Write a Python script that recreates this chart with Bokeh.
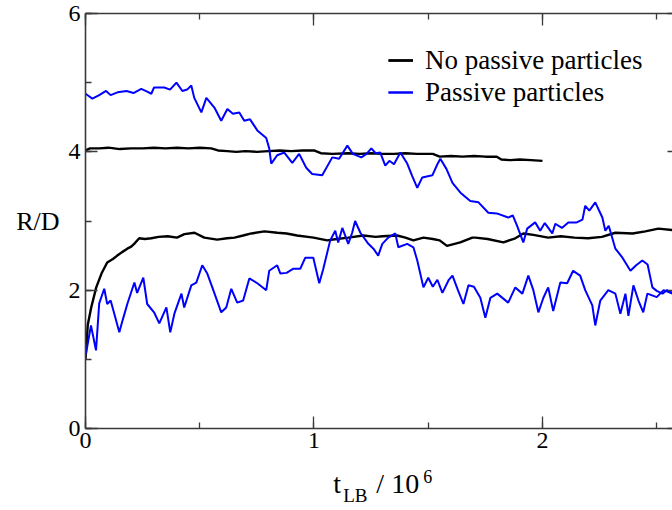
from bokeh.plotting import figure
from bokeh.layouts import column
from bokeh.models import (Range1d, LinearAxis, SingleIntervalTicker, Legend,
                          LegendItem, Label, CustomLabelingPolicy)
from bokeh.embed import file_html
from bokeh.resources import INLINE

# ---------------- data ----------------
# black, upper run (no passive particles)
t_np_hi = [0, 0.02, 0.06, 0.1, 0.15, 0.2, 0.25, 0.3, 0.35, 0.4,
           0.45, 0.5, 0.55, 0.58, 0.62, 0.66, 0.7, 0.75, 0.8, 0.85,
           0.9, 0.95, 1.0, 1.03, 1.08, 1.15, 1.2, 1.25, 1.3, 1.35,
           1.4, 1.45, 1.52, 1.55, 1.6, 1.65, 1.7, 1.75, 1.8, 1.82,
           1.86, 1.9, 1.95, 2.0]
r_np_hi = [4.02, 4.05, 4.05, 4.06, 4.04, 4.05, 4.05, 4.06, 4.05, 4.06,
           4.05, 4.06, 4.05, 4.02, 4.01, 4.0, 4.01, 4.0, 4.01, 4.02,
           4.01, 4.02, 4.02, 3.98, 3.97, 3.98, 3.97, 3.98, 3.97, 3.97,
           3.98, 3.97, 3.97, 3.93, 3.94, 3.93, 3.94, 3.93, 3.93, 3.89,
           3.88, 3.89, 3.88, 3.87]

# black, lower run (no passive particles)
t_np_lo = [0, 0.005, 0.01, 0.025, 0.047, 0.07, 0.095, 0.12, 0.139, 0.16,
           0.183, 0.2, 0.213, 0.235, 0.26, 0.288, 0.32, 0.36, 0.4, 0.433,
           0.477, 0.52, 0.576, 0.62, 0.652, 0.69, 0.726, 0.783, 0.84, 0.88,
           0.926, 0.998, 1.058, 1.1, 1.15, 1.216, 1.27, 1.3, 1.364, 1.4,
           1.435, 1.479, 1.52, 1.55, 1.582, 1.64, 1.693, 1.706, 1.76, 1.829,
           1.881, 1.916, 1.96, 2.025, 2.08, 2.14, 2.2, 2.26, 2.319, 2.394,
           2.45, 2.507, 2.57]
r_np_lo = [1.0, 1.25, 1.5, 1.75, 2.04, 2.24, 2.4, 2.45, 2.5, 2.55,
           2.6, 2.63, 2.67, 2.75, 2.74, 2.75, 2.77, 2.78, 2.76, 2.81,
           2.83, 2.76, 2.73, 2.75, 2.76, 2.79, 2.82, 2.85, 2.83, 2.82,
           2.79, 2.76, 2.72, 2.74, 2.76, 2.79, 2.77, 2.78, 2.79, 2.76,
           2.72, 2.76, 2.74, 2.72, 2.64, 2.69, 2.76, 2.76, 2.74, 2.69,
           2.75, 2.82, 2.8, 2.76, 2.78, 2.76, 2.75, 2.77, 2.83, 2.82,
           2.85, 2.89, 2.87]

# blue, upper run (passive particles)
t_p_hi = [0, 0.03, 0.06, 0.09, 0.11, 0.14, 0.18, 0.21, 0.244, 0.27,
          0.288, 0.3, 0.345, 0.37, 0.398, 0.424, 0.445, 0.463, 0.476, 0.507,
          0.529, 0.564, 0.594, 0.621, 0.645, 0.673, 0.695, 0.72, 0.752, 0.791,
          0.804, 0.813, 0.839, 0.87, 0.905, 0.935, 0.966, 0.992, 1.036, 1.08,
          1.11, 1.146, 1.17, 1.207, 1.23, 1.251, 1.27, 1.29, 1.312, 1.33,
          1.35, 1.378, 1.408, 1.43, 1.452, 1.474, 1.518, 1.54, 1.553, 1.58,
          1.606, 1.641, 1.684, 1.72, 1.763, 1.8, 1.85, 1.87, 1.889, 1.916,
          1.933, 1.968, 1.99, 2.01, 2.043, 2.056, 2.085, 2.113, 2.15, 2.175,
          2.187, 2.205, 2.231, 2.262, 2.275, 2.29, 2.319, 2.35, 2.385, 2.41,
          2.437, 2.46, 2.481, 2.5, 2.525, 2.545, 2.57]
r_p_hi = [4.84, 4.77, 4.82, 4.88, 4.82, 4.86, 4.88, 4.85, 4.91, 4.87,
          4.84, 4.93, 4.93, 4.9, 5.0, 4.88, 4.9, 4.96, 4.78, 4.57,
          4.78, 4.64, 4.45, 4.62, 4.55, 4.57, 4.45, 4.47, 4.31, 4.2,
          4.05, 3.83, 3.95, 3.99, 3.84, 3.97, 3.77, 3.68, 3.66, 3.92,
          3.9, 4.09, 3.97, 3.92, 3.97, 4.05, 3.98, 3.99, 3.8, 3.87,
          3.82, 3.99, 3.83, 3.65, 3.48, 3.63, 3.66, 3.82, 3.9, 3.75,
          3.55, 3.41, 3.29, 3.27, 3.12, 3.11, 3.05, 3.08, 2.93, 2.69,
          2.89, 2.98, 2.86, 2.97, 2.82, 2.96, 2.9, 2.98, 2.98, 3.02,
          3.22, 3.15, 3.27, 3.05, 2.86, 2.93, 2.6, 2.47, 2.28, 2.36,
          2.43, 2.37, 2.04, 1.99, 1.95, 2.0, 1.96]

# blue, lower run (passive particles)
t_p_lo = [0.002, 0.024, 0.046, 0.06, 0.082, 0.095, 0.11, 0.126, 0.148, 0.162,
          0.183, 0.214, 0.226, 0.253, 0.27, 0.3, 0.323, 0.354, 0.371, 0.389,
          0.42, 0.432, 0.463, 0.485, 0.511, 0.533, 0.555, 0.594, 0.616, 0.638,
          0.664, 0.69, 0.717, 0.752, 0.791, 0.804, 0.839, 0.853, 0.88, 0.91,
          0.94, 0.962, 0.997, 1.023, 1.04, 1.071, 1.093, 1.106, 1.124, 1.15,
          1.167, 1.18, 1.203, 1.238, 1.26, 1.281, 1.299, 1.325, 1.356, 1.369,
          1.408, 1.435, 1.452, 1.479, 1.5, 1.52, 1.54, 1.562, 1.59, 1.606,
          1.63, 1.654, 1.676, 1.7, 1.728, 1.75, 1.772, 1.802, 1.85, 1.881,
          1.912, 1.938, 1.96, 1.982, 2.004, 2.025, 2.047, 2.078, 2.108, 2.134,
          2.165, 2.187, 2.218, 2.231, 2.253, 2.288, 2.319, 2.341, 2.363, 2.376,
          2.398, 2.42, 2.441, 2.459, 2.5, 2.53, 2.57]
r_p_lo = [1.08, 1.49, 1.13, 1.81, 2.02, 1.8, 1.85, 1.66, 1.39, 1.56,
          1.8, 2.11, 1.96, 2.18, 1.8, 1.68, 1.52, 1.75, 1.39, 1.66,
          1.95, 1.75, 2.07, 2.11, 2.36, 2.24, 2.04, 1.68, 1.75, 2.02,
          1.82, 1.85, 2.17, 2.1, 2.0, 2.28, 2.36, 2.24, 2.25, 2.31,
          2.31, 2.47, 2.47, 2.1, 2.3, 2.72, 2.86, 2.69, 2.9, 2.67,
          2.83, 3.0, 2.83, 2.67, 2.6, 2.5, 2.67, 2.76, 2.82, 2.62,
          2.67, 2.62, 2.43, 2.04, 2.18, 2.05, 2.15, 1.96, 2.15, 2.21,
          2.0, 1.8, 2.07, 2.05, 1.89, 1.6, 1.89, 1.95, 1.82, 2.04,
          1.95, 2.21, 2.0, 1.68, 1.89, 2.04, 1.7, 2.11, 2.1, 2.28,
          2.21, 2.0, 1.78, 1.49, 1.85, 2.0, 1.95, 1.66, 1.95, 1.63,
          2.07, 1.85, 1.68, 1.95, 1.9, 2.0, 1.95]

legend_labels = ["No passive particles", "Passive particles"]
x_label_parts = ["t", "LB", "/ 10", "6"]
y_label = "R/D"

# ---------------- main figure ----------------
SERIF = "Liberation Serif"
AX = "#3a3a3a"

p = figure(width=672, height=462, output_backend="svg", toolbar_location=None,
           x_range=Range1d(0, 2.569), y_range=Range1d(0, 6),
           min_border_left=85, min_border_right=0, min_border_top=13,
           min_border_bottom=34, x_axis_type=None, y_axis_type=None)
p.title.visible = False
p.outline_line_color = None
p.xgrid.visible = False
p.ygrid.visible = False
p.background_fill_color = "white"
p.border_fill_color = "white"

xt = SingleIntervalTicker(interval=1, num_minor_ticks=2)
yt = SingleIntervalTicker(interval=2, num_minor_ticks=2)

no_labels = CustomLabelingPolicy(code="""
    for (const i of Array.from(indices)) { indices.unset(i) }
    return indices
""")


def style_axis(ax, show_labels, tick_in=12, minor_in=6, line=True):
    ax.major_tick_in = tick_in
    ax.major_tick_out = 0
    ax.minor_tick_in = minor_in
    ax.minor_tick_out = 0
    ax.major_tick_line_color = AX
    ax.minor_tick_line_color = AX
    ax.major_tick_line_width = 1.3
    ax.minor_tick_line_width = 1.3
    ax.axis_line_color = AX if line else None
    ax.axis_line_width = 1.6
    ax.major_label_text_font = SERIF
    ax.major_label_text_color = "black"
    if show_labels:
        ax.major_label_text_font_size = "24px"
    else:
        ax.major_label_text_font_size = "0px"
        ax.major_label_policy = no_labels
        ax.major_label_standoff = 0


xb = LinearAxis(ticker=xt)
style_axis(xb, True)
xb.major_label_standoff = 4
p.add_layout(xb, "below")

xa = LinearAxis(ticker=xt)
style_axis(xa, False)
p.add_layout(xa, "above")

yl = LinearAxis(ticker=yt)
style_axis(yl, True)
yl.major_label_standoff = 5
yl.axis_label = y_label
yl.axis_label_orientation = "horizontal"
yl.axis_label_text_font = SERIF
yl.axis_label_text_font_size = "26px"
yl.axis_label_text_font_style = "normal"
yl.axis_label_text_color = "black"
yl.axis_label_standoff = 6
p.add_layout(yl, "left")

yr = LinearAxis(ticker=yt)
style_axis(yr, False, tick_in=5, minor_in=0, line=False)
p.add_layout(yr, "right")

b1 = p.line(t_np_hi, r_np_hi, line_color="black", line_width=2.4)
b2 = p.line(t_np_lo, r_np_lo, line_color="black", line_width=2.4)
u1 = p.line(t_p_hi, r_p_hi, line_color="#0000ff", line_width=2.0)
u2 = p.line(t_p_lo, r_p_lo, line_color="#0000ff", line_width=2.0)

legend = Legend(items=[LegendItem(label=legend_labels[0], renderers=[b1, b2]),
                       LegendItem(label=legend_labels[1], renderers=[u1, u2])],
                location=(303, 320))
legend.border_line_color = None
legend.background_fill_alpha = 0
legend.label_text_font = SERIF
legend.label_text_font_size = "27px"
legend.label_text_color = "black"
legend.glyph_width = 25
legend.glyph_height = 32
legend.label_height = 32
legend.label_standoff = 12
legend.padding = 0
legend.spacing = 0
legend.margin = 0
p.add_layout(legend)

# ---------------- strip below for the x-axis title ----------------
# shares the x range so the title pieces sit at the same horizontal scale
q = figure(width=672, height=48, output_backend="svg", toolbar_location=None,
           x_range=p.x_range, y_range=Range1d(0, 48),
           min_border_left=85, min_border_right=0, min_border_top=0,
           min_border_bottom=0, x_axis_type=None, y_axis_type=None)
q.title.visible = False
q.outline_line_color = None
q.xgrid.visible = False
q.ygrid.visible = False
q.background_fill_color = "white"
q.border_fill_color = "white"

main = dict(text_font=SERIF, text_color="black", text_baseline="alphabetic",
            text_align="left")
q.add_layout(Label(x=1.084, y=27, text=x_label_parts[0], text_font_size="28px", **main))
q.add_layout(Label(x=1.128, y=15, text=x_label_parts[1], text_font_size="19px", **main))
q.add_layout(Label(x=1.273, y=27, text=x_label_parts[2], text_font_size="28px", **main))
q.add_layout(Label(x=1.478, y=34, text=x_label_parts[3], text_font_size="18px", **main))

layout = column(p, q, spacing=0)
open("out.html", "w").write(file_html(layout, INLINE))
